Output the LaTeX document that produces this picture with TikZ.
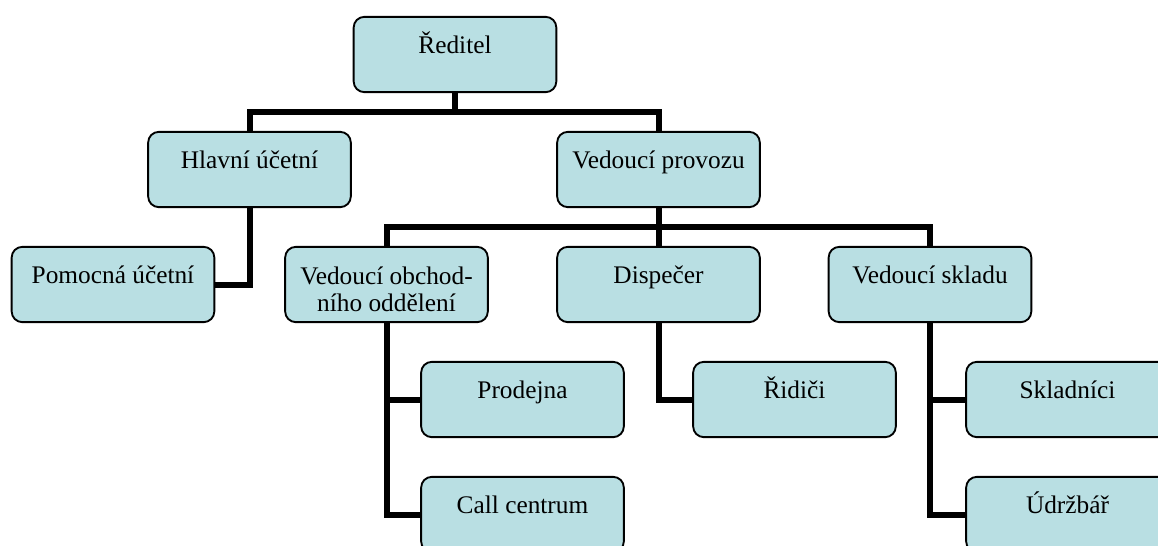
\documentclass[tikz,border=0pt]{standalone}
\usepackage{fontspec}
\setmainfont{Liberation Serif}
\definecolor{boxfill}{RGB}{185,223,227}
\begin{document}
\begin{tikzpicture}[x=0.75pt,y=-0.75pt,
  box/.style={draw=black, line width=1.4pt, fill=boxfill, rounded corners=8pt,
    minimum width=152pt, minimum height=56.5pt, inner sep=0pt},
  lbl/.style={anchor=base, inner sep=0pt, align=center,
    font=\fontsize{19}{20.25}\selectfont},
  conn/.style={line width=4.5pt, line join=miter}]
\useasboundingbox (0,0) rectangle (1158,546);
\clip (0,0) rectangle (1158,546);
% boxes
\node[box] (dir)  at (455,54.5) {};
\node[box] (hla)  at (249.5,169.5) {};
\node[box] (vp)   at (658.5,169.5) {};
\node[box] (pom)  at (113,284.5) {};
\node[box] (obch) at (386.5,284.5) {};
\node[box] (disp) at (658.5,284.5) {};
\node[box] (skl)  at (930,284.5) {};
\node[box] (prod) at (522.5,399.5) {};
\node[box] (rid)  at (794.5,399.5) {};
\node[box] (skn)  at (1067.5,399.5) {};
\node[box] (call) at (522.5,514.5) {};
\node[box] (udr)  at (1067.5,514.5) {};
% connectors
\coordinate (b1) at (455,112);
\coordinate (b2) at (658.5,227);
\draw[conn] (dir.south) -- (b1);
\draw[conn] (hla.north) |- (b1) -| (vp.north);
\draw[conn] (vp.south) -- (disp.north);
\draw[conn] (obch.north) |- (b2) -| (skl.north);
\draw[conn] (hla.south) |- (pom.east);
\draw[conn] (obch.south) |- (prod.west);
\draw[conn] (obch.south) |- (call.west);
\draw[conn] (disp.south) |- (rid.west);
\draw[conn] (skl.south) |- (skn.west);
\draw[conn] (skl.south) |- (udr.west);
% labels
\node[lbl] (tdir)  at ([yshift=-28]dir.north)  {Ředitel};
\node[lbl] (thla)  at ([yshift=-28]hla.north)  {Hlavní účetní};
\node[lbl] (tvp)   at ([yshift=-28]vp.north)   {Vedoucí provozu};
\node[lbl] (tpom)  at ([yshift=-28]pom.north)  {Pomocná účetní};
\node[lbl] (tobch) at ([yshift=-49]obch.north) {Vedoucí obchod-\\ního oddělení};
\node[lbl] (tdisp) at ([yshift=-28]disp.north) {Dispečer};
\node[lbl] (tskl)  at ([yshift=-28]skl.north)  {Vedoucí skladu};
\node[lbl] (tprod) at ([yshift=-28]prod.north) {Prodejna};
\node[lbl] (trid)  at ([yshift=-28]rid.north)  {Řidiči};
\node[lbl] (tskn)  at ([yshift=-28]skn.north)  {Skladníci};
\node[lbl] (tcall) at ([yshift=-28]call.north) {Call centrum};
\node[lbl] (tudr)  at ([yshift=-28]udr.north)  {Údržbář};
\end{tikzpicture}
\end{document}
